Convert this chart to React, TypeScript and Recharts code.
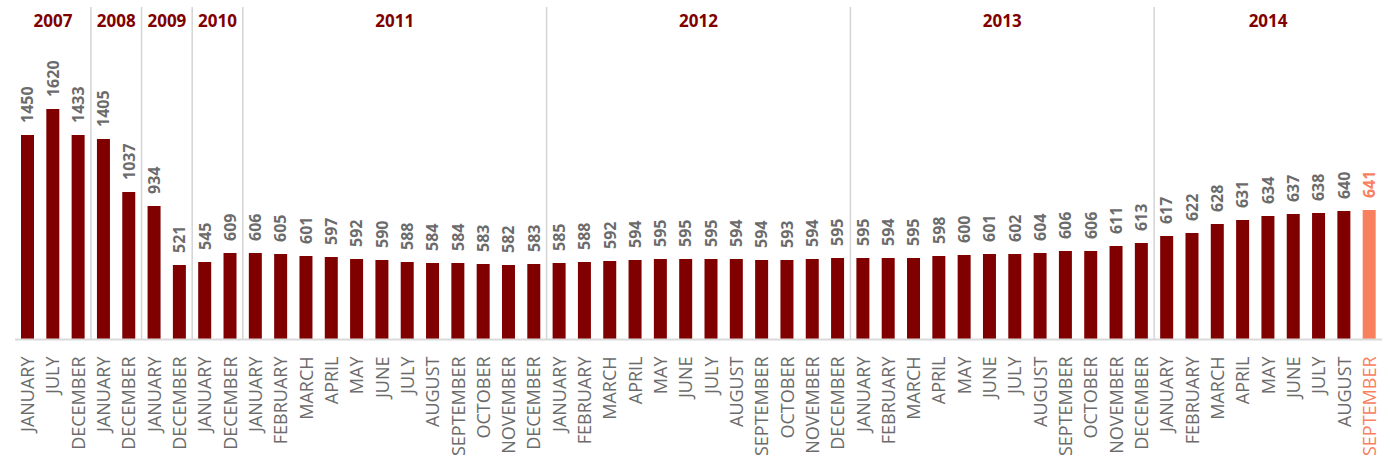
import { Bar, BarChart, Cell, LabelList, ReferenceArea, XAxis, YAxis } from 'recharts';

const YEARS = ['2007', '2008', '2009', '2010', '2011', '2012', '2013', '2014'];

const FULL_YEAR = [
  'JANUARY', 'FEBRUARY', 'MARCH', 'APRIL', 'MAY', 'JUNE',
  'JULY', 'AUGUST', 'SEPTEMBER', 'OCTOBER', 'NOVEMBER', 'DECEMBER',
];

const MONTHS_BY_YEAR = [
  ['JANUARY', 'JULY', 'DECEMBER'],
  ['JANUARY', 'DECEMBER'],
  ['JANUARY', 'DECEMBER'],
  ['JANUARY', 'DECEMBER'],
  FULL_YEAR,
  FULL_YEAR,
  FULL_YEAR,
  FULL_YEAR.slice(0, 9),
];

// printed numbers above the bars
const LABELS = [
  1450, 1620, 1433,
  1405, 1037,
  934, 521,
  545, 609,
  606, 605, 601, 597, 592, 590, 588, 584, 584, 583, 582, 583,
  585, 588, 592, 594, 595, 595, 595, 594, 594, 593, 594, 595,
  595, 594, 595, 598, 600, 601, 602, 604, 606, 606, 611, 613,
  617, 622, 628, 631, 634, 637, 638, 640, 641,
];

// bar heights as drawn in the picture (they don't follow the printed numbers after 2010)
const HEIGHTS = [
  1433, 1615, 1433,
  1405, 1034,
  936, 522,
  543, 606,
  606, 599, 585, 578, 564, 557, 543, 536, 536, 529, 522, 529,
  536, 543, 550, 557, 564, 564, 564, 564, 557, 557, 564, 571,
  571, 571, 571, 585, 592, 599, 599, 606, 620, 620, 655, 676,
  725, 746, 809, 837, 865, 879, 886, 900, 907,
];

const DARK = '#800000';
const LAST = '#F9805F';
const GRAY = '#6b6b6b';
const FONT = '"Open Sans", sans-serif';

const rows = YEARS.flatMap((yr, g) =>
  MONTHS_BY_YEAR[g].map((m) => ({ key: `${yr}-${m}`, month: m, year: yr })),
).map((r, i) => ({ ...r, label: LABELS[i], value: HEIGHTS[i] }));

const groups = YEARS.map((yr) => {
  const inYear = rows.filter((r) => r.year === yr);
  return { year: yr, first: inYear[0].key, last: inYear[inYear.length - 1].key };
});

const lastIdx = rows.length - 1;

function MonthTick(props: any) {
  const { x, y, payload, index } = props;
  const month = rows[index]?.month ?? String(payload.value).split('-')[1];
  return (
    <text
      transform={`translate(${x + 6.5},${y + 17}) rotate(-90)`}
      textAnchor="end"
      fontFamily={FONT}
      fontSize={18}
      fill={index === lastIdx ? LAST : GRAY}
    >
      {month}
    </text>
  );
}

function ValueLabel(props: any) {
  const { x, y, width, value, index } = props;
  const cx = Number(x) + Number(width) / 2;
  return (
    <text
      transform={`translate(${cx + 5.8},${Number(y) - 12}) rotate(-90)`}
      textAnchor="start"
      fontFamily={FONT}
      fontWeight={700}
      fontSize={16}
      fill={index === lastIdx ? LAST : GRAY}
    >
      {value}
    </text>
  );
}

function yearShape(year: string, isLast: boolean) {
  return (p: any) => (
    <g>
      {!isLast && (
        <line x1={p.x + p.width} x2={p.x + p.width} y1={p.y} y2={p.y + p.height} stroke="#d4d4d4" strokeWidth={1.5} />
      )}
      <text
        x={p.x + p.width / 2}
        y={p.y + 20}
        textAnchor="middle"
        fontFamily={FONT}
        fontWeight={700}
        fontSize={17}
        fill={DARK}
      >
        {year}
      </text>
    </g>
  );
}

export default function App() {
  return (
    <div style={{ width: 1390, height: 464, background: '#fff' }}>
      <style>{'body{margin:0}'}</style>
      <BarChart width={1390} height={464} data={rows} margin={{ top: 7, right: 8, left: 15, bottom: 0 }}>
        <YAxis type="number" domain={[0, 2330]} hide />
        <XAxis
          dataKey="key"
          interval={0}
          height={124.5}
          tickLine={false}
          tickSize={0}
          tickMargin={0}
          axisLine={{ stroke: '#d9d9d9', strokeWidth: 2 }}
          tick={<MonthTick />}
        />
        {groups.map((g, i) => (
          <ReferenceArea
            key={g.year}
            x1={g.first}
            x2={g.last}
            ifOverflow="visible"
            shape={yearShape(g.year, i === groups.length - 1)}
          />
        ))}
        <Bar dataKey="value" barSize={13} isAnimationActive={false}>
          {rows.map((_, i) => (
            <Cell key={i} fill={i === lastIdx ? LAST : DARK} />
          ))}
          <LabelList dataKey="label" content={<ValueLabel />} />
        </Bar>
      </BarChart>
    </div>
  );
}
